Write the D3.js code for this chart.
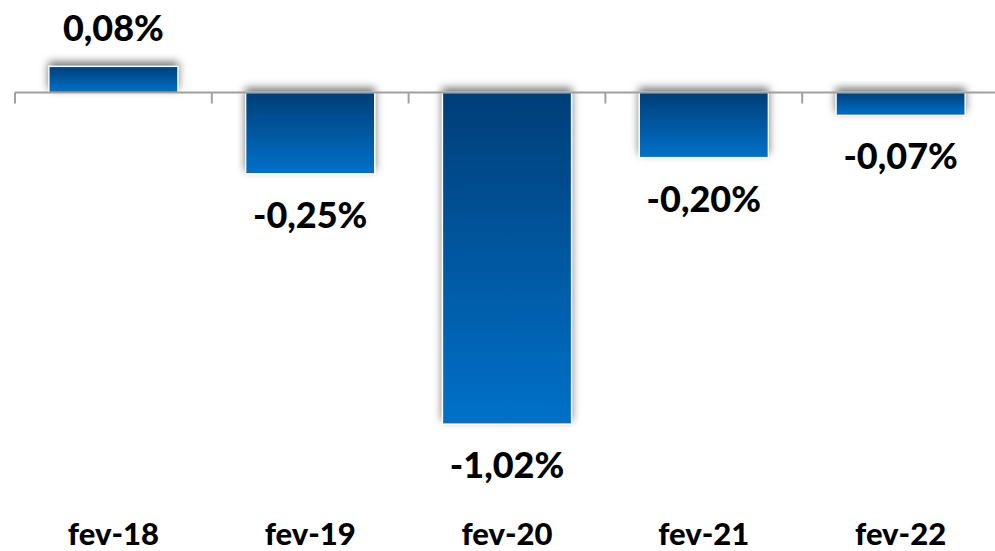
<!DOCTYPE html>
<html>
<head>
<meta charset="utf-8">
<script src="https://cdn.jsdelivr.net/npm/d3@7/dist/d3.min.js"></script>
<style>
html,body{margin:0;padding:0;background:#fff;}
svg{display:block;}
</style>
</head>
<body>
<svg id="chart" width="995" height="551"></svg>
<script>
const categories = ["fev-18", "fev-19", "fev-20", "fev-21", "fev-22"];
const values = [0.08, -0.25, -1.02, -0.20, -0.07];
const valueLabels = ["0,08%", "-0,25%", "-1,02%", "-0,20%", "-0,07%"];

const W = 995, H = 551;
const svg = d3.select("#chart");
const defs = svg.append("defs");

const grad = defs.append("linearGradient").attr("id", "barGrad")
  .attr("x1", 0).attr("y1", 0).attr("x2", 0).attr("y2", 1);
grad.append("stop").attr("offset", "0%").attr("stop-color", "#003e78");
grad.append("stop").attr("offset", "100%").attr("stop-color", "#0071c9");

const f = defs.append("filter").attr("id", "shadow")
  .attr("x", "-20%").attr("y", "-50%").attr("width", "140%").attr("height", "200%");
f.append("feGaussianBlur").attr("in", "SourceAlpha").attr("stdDeviation", 4).attr("result", "b");
f.append("feOffset").attr("in", "b").attr("dx", 0).attr("dy", -4).attr("result", "o");
f.append("feFlood").attr("flood-color", "#000").attr("flood-opacity", 0.55).attr("result", "c");
f.append("feComposite").attr("in", "c").attr("in2", "o").attr("operator", "in").attr("result", "s");
const m = f.append("feMerge");
m.append("feMergeNode").attr("in", "s");
m.append("feMergeNode").attr("in", "SourceGraphic");

const x = d3.scaleBand().domain(categories).range([15, 999])
  .paddingInner(0.345).paddingOuter(0.1725);
const y = d3.scaleLinear().domain([-1.1, 0.2]).range([450, 27.5]);

const data = categories.map((c, i) => ({c, v: values[i], l: valueLabels[i]}));

svg.append("g").selectAll("rect").data(data).join("rect")
  .attr("x", d => x(d.c))
  .attr("width", x.bandwidth())
  .attr("y", d => y(Math.max(0, d.v)))
  .attr("height", d => Math.abs(y(d.v) - y(0)))
  .attr("fill", "url(#barGrad)")
  .attr("stroke", "#fff")
  .attr("stroke-width", 1.2)
  .attr("filter", "url(#shadow)");

// axis line with tick marks at category boundaries
const ax = svg.append("g");
ax.append("line").attr("x1", x.range()[0]).attr("x2", W + 10)
  .attr("y1", y(0)).attr("y2", y(0))
  .attr("stroke", "#a0a0a0").attr("stroke-width", 2);
ax.selectAll("line.tk").data(d3.range(categories.length + 1)).join("line")
  .attr("class", "tk")
  .attr("x1", i => x.range()[0] + i * x.step())
  .attr("x2", i => x.range()[0] + i * x.step())
  .attr("y1", y(0)).attr("y2", y(0) + 11)
  .attr("stroke", "#a0a0a0").attr("stroke-width", 2);

const font = "Lato, 'Open Sans', sans-serif";
svg.append("g").selectAll("text").data(data).join("text")
  .attr("x", d => x(d.c) + x.bandwidth() / 2)
  .attr("y", d => d.v >= 0 ? y(d.v) - 26 : y(d.v) + 54)
  .attr("text-anchor", "middle")
  .attr("font-family", font)
  .attr("font-weight", 900)
  .attr("font-size", 36)
  .attr("fill", "#000")
  .text(d => d.l);

svg.append("g").selectAll("text").data(categories).join("text")
  .attr("x", c => x(c) + x.bandwidth() / 2)
  .attr("y", 545)
  .attr("text-anchor", "middle")
  .attr("font-family", font)
  .attr("font-weight", 900)
  .attr("font-size", 31)
  .attr("fill", "#000")
  .text(c => c);
</script>
</body>
</html>
